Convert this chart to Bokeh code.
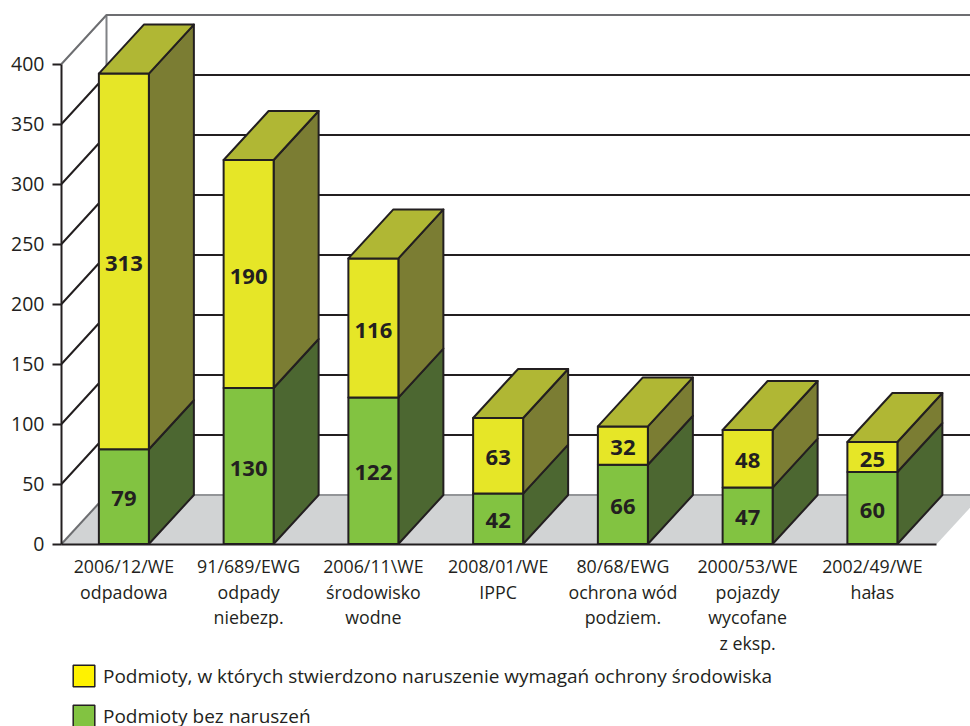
from bokeh.plotting import figure
from bokeh.models import Range1d, FixedTicker, Legend, LegendItem, ColumnDataSource
from bokeh.core.properties import value
from bokeh.embed import file_html
from bokeh.resources import INLINE

categories = ["2006/12/WE\nodpadowa", "91/689/EWG\nodpady\nniebezp.", "2006/11\\WE\nśrodowisko\nwodne",
              "2008/01/WE\nIPPC", "80/68/EWG\nochrona wód\npodziem.", "2000/53/WE\npojazdy\nwycofane\nz eksp.",
              "2002/49/WE\nhałas"]
bez_naruszen = [79, 130, 122, 42, 66, 47, 60]
naruszenia = [313, 190, 116, 63, 32, 48, 25]
y_ticks = [0, 50, 100, 150, 200, 250, 300, 350, 400]
legend_labels = ["Podmioty, w których stwierdzono naruszenie wymagań ochrony środowiska", "Podmioty bez naruszeń"]

W, H = 970, 726
ORIGIN_X, ORIGIN_Y = 61, 543.5
PX_PER_CAT, PX_PER_UNIT = 124.75, 1.2
DX, DY = 45 / PX_PER_CAT, 49 / PX_PER_UNIT   # depth of the pseudo-3D projection
BAR_W = 50 / PX_PER_CAT
INK = "#231f20"
FONT = "Open Sans"

x_end = (W - ORIGIN_X) / PX_PER_CAT
p = figure(width=W, height=H, output_backend="svg", toolbar_location=None,
           x_range=Range1d(-ORIGIN_X / PX_PER_CAT, x_end),
           y_range=Range1d(-(H - ORIGIN_Y) / PX_PER_UNIT, ORIGIN_Y / PX_PER_UNIT),
           min_border_left=0, min_border_right=0, min_border_top=0, min_border_bottom=0,
           margin=(0, 0, 0, 0), outline_line_color=None, background_fill_color="white", border_fill_color="white")
p.grid.visible = False

# floor and walls
n = len(categories)
floor_end = n + 2 / PX_PER_CAT
centers = [i + 0.5 for i in range(n)]
p.patch([0, DX, floor_end + DX, floor_end], [0, DY, DY, 0], fill_color="#d1d3d4", line_color=None)
p.line([DX, x_end], [DY, DY], line_color="#939598", line_width=2)
p.line([0, DX], [0, DY], line_color="#6d6e71", line_width=2)
p.line([DX, DX], [DY, max(y_ticks) + DY], line_color="#808285", line_width=2)
grid_vals = y_ticks[1:]
p.multi_line([[0, DX, x_end] for _ in grid_vals], [[v, v + DY, v + DY] for v in grid_vals],
             line_color=[INK] * (len(grid_vals) - 1) + ["#6d6e71"], line_width=2)

# bars
def side(x, a, b):
    return [x, x + DX, x + DX, x], [a, a + DY, b + DY, b]

def front(x, a, b):
    return [x - BAR_W, x, x, x - BAR_W], [a, a, b, b]

def top(x, b):
    return [x - BAR_W, x, x + DX, x - BAR_W + DX], [b, b, b + DY, b + DY]

kw = dict(line_color=INK, line_width=2, line_join="round")
rights = [c + BAR_W / 2 for c in centers]
tot = [g + y for g, y in zip(bez_naruszen, naruszenia)]

s1 = [side(x, 0, g) for x, g in zip(rights, bez_naruszen)]
p.patches([s[0] for s in s1], [s[1] for s in s1], fill_color="#4c6731", **kw)
s2 = [side(x, g, t) for x, g, t in zip(rights, bez_naruszen, tot)]
p.patches([s[0] for s in s2], [s[1] for s in s2], fill_color="#7b7d33", **kw)
f1 = [front(x, 0, g) for x, g in zip(rights, bez_naruszen)]
p.patches([s[0] for s in f1], [s[1] for s in f1], fill_color="#82c341", **kw)
f2 = [front(x, g, t) for x, g, t in zip(rights, bez_naruszen, tot)]
p.patches([s[0] for s in f2], [s[1] for s in f2], fill_color="#e6e627", **kw)
t1 = [top(x, t) for x, t in zip(rights, tot)]
p.patches([s[0] for s in t1], [s[1] for s in t1], fill_color="#b0b734", **kw)

# axes, fixed at the data origin so that the frame can fill the page
ax = p.yaxis[0]
ax.fixed_location = 0
ax.ticker = FixedTicker(ticks=y_ticks)
ax.bounds = (0, max(y_ticks))
ax.major_tick_out, ax.major_tick_in, ax.minor_tick_out, ax.minor_tick_in = 9, 0, 0, 0
ax.axis_line_color = ax.major_tick_line_color = INK
ax.axis_line_width = ax.major_tick_line_width = 2
ax.major_label_text_font = FONT
ax.major_label_text_font_size = "19.5px"
ax.major_label_text_color = INK
ax.major_label_standoff = 8

ax = p.xaxis[0]
ax.fixed_location = 0
ax.ticker = FixedTicker(ticks=centers)
ax.major_label_overrides = dict(zip(centers, categories))
ax.bounds = (0, floor_end)
ax.major_tick_out, ax.major_tick_in, ax.minor_tick_out, ax.minor_tick_in = 0, 0, 0, 0
ax.axis_line_color = INK
ax.axis_line_width = 2
ax.major_label_text_font = FONT
ax.major_label_text_font_size = "17.8px"
ax.major_label_text_color = INK
ax.major_label_text_line_height = 1.07
ax.major_label_standoff = 10

# value labels
lx = centers + centers
ly = [g / 2 for g in bez_naruszen] + [g + y / 2 for g, y in zip(bez_naruszen, naruszenia)]
lt = [str(v) for v in bez_naruszen + naruszenia]
p.text(x=lx, y=ly, text=lt, text_align="center", text_baseline="middle", text_color=INK, y_offset=2,
       text_font=value(FONT), text_font_style="bold", text_font_size="22px")

# legend
nan = float("nan")
e = ColumnDataSource(dict(left=[nan], right=[nan], top=[nan], bottom=[nan]))
r_y = p.quad(left="left", right="right", top="top", bottom="bottom", source=e,
             fill_color="#fff200", line_color=INK, line_width=1.5)
r_g = p.quad(left="left", right="right", top="top", bottom="bottom", source=e,
             fill_color="#82c341", line_color=INK, line_width=1.5)
leg = Legend(items=[LegendItem(label=legend_labels[0], renderers=[r_y]),
                    LegendItem(label=legend_labels[1], renderers=[r_g])],
             location=(70, -3), orientation="vertical", background_fill_alpha=0, border_line_color=None,
             glyph_width=27, glyph_height=27, label_text_font=FONT, label_text_font_size="19px",
             label_text_color=INK, spacing=13, margin=0, padding=0, label_standoff=6, label_height=27)
p.add_layout(leg, "center")

open("out.html", "w").write(file_html(p, INLINE))
